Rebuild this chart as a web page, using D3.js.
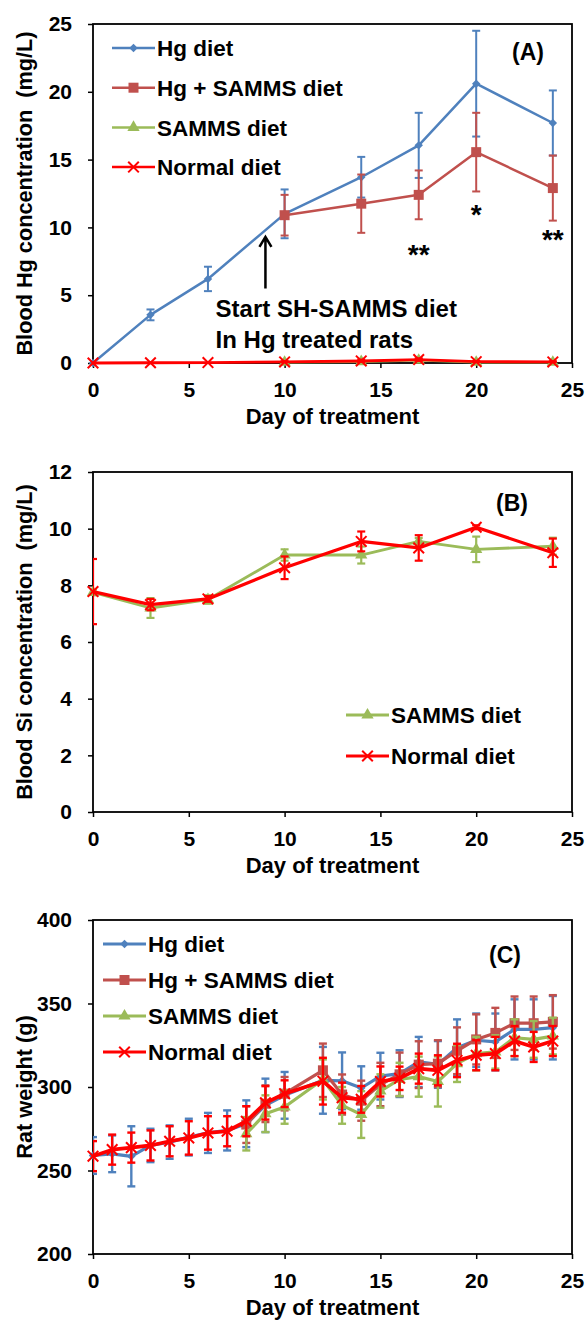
<!DOCTYPE html>
<html>
<head>
<meta charset="utf-8">
<script src="https://cdn.jsdelivr.net/npm/d3@7"></script>
<style>
	body { margin: 0; background: #fff; }
	text { font-family: "Liberation Sans", Arial, sans-serif; font-weight: bold; fill: #000; white-space: pre; }
</style>
</head>
<body>
<div id="chart"></div>
<script>
// ---------- data ----------
const xTicks = [0, 5, 10, 15, 20, 25];
const yTicksA = [0, 5, 10, 15, 20, 25];
const yTicksB = [0, 2, 4, 6, 8, 10, 12];
const yTicksC = [200, 250, 300, 350, 400];

// (A) blood Hg (mg/L)
const hgDaysA = [0, 3, 6, 10, 14, 17, 20, 24];
const hgValsA = [0, 3.55, 6.2, 11.0, 13.7, 16.05, 20.6, 17.7];
const hgErrA = [0, 0.4, 0.9, 1.8, 1.5, 2.4, 3.9, 2.4];
const hgSamDaysA = [10, 14, 17, 20, 24];
const hgSamValsA = [10.9, 11.75, 12.4, 15.55, 12.9];
const hgSamErrA = [1.5, 2.15, 1.8, 2.9, 2.4];
const samDaysA = [10, 14, 17, 20, 24];
const samValsA = [0.05, 0.1, 0.2, 0.05, 0.05];
const samErrA = [0.05, 0.05, 0.1, 0.05, 0.05];
const normDaysA = [0, 3, 6, 10, 14, 17, 20, 24];
const normValsA = [0, 0.02, 0.03, 0.08, 0.15, 0.25, 0.1, 0.08];
const normErrA = [0, 0, 0, 0.05, 0.1, 0.1, 0.05, 0.05];

// (B) blood Si (mg/L)
const daysB = [0, 3, 6, 10, 14, 17, 20, 24];
const samValsB = [7.75, 7.2, 7.5, 9.07, 9.07, 9.55, 9.27, 9.38];
const samErrB = [0.1, 0.35, 0.15, 0.2, 0.3, 0.12, 0.45, 0.3];
const normValsB = [7.78, 7.32, 7.52, 8.62, 9.55, 9.32, 10.05, 9.15];
const normErrB = [1.15, 0.2, 0.1, 0.4, 0.35, 0.45, 0.07, 0.5];

// (C) rat weight (g)
const daysAllC = [0, 1, 2, 3, 4, 5, 6, 7, 8, 9, 10, 12, 13, 14, 15, 16, 17, 18, 19, 20, 21, 22, 23, 24];
const daysLateC = [8, 9, 10, 12, 13, 14, 15, 16, 17, 18, 19, 20, 21, 22, 23, 24];
const hgValsC = [259, 260, 258.5, 265, 267, 270, 272.5, 274, 278, 289, 295, 304, 303.7, 299.4, 306.5, 308, 315, 313.5, 323.5, 328, 327, 334.5, 334.5, 335.5];
const hgErrC = [11, 11, 18, 10, 10, 11, 12, 12, 14, 16, 14, 20, 17, 13, 14, 14, 15, 14, 17, 16, 17, 18, 18, 19];
const hgSamValsC = [277.5, 290, 296, 310, 295.5, 291.8, 301.5, 307.6, 313.4, 314, 321.7, 328.5, 332.4, 338.2, 338.2, 339];
const hgSamErrC = [11, 11, 10, 16, 12, 12, 13, 13, 14, 14, 14, 15, 15, 16, 16, 16];
const samValsC = [272, 284, 288, 304.5, 289, 283.5, 297.6, 304.5, 306.2, 303.3, 314, 320, 321, 329.5, 328.5, 330.5];
const samErrC = [10, 11, 10, 12, 11, 14, 10, 10, 12, 15, 11, 10, 10, 11, 11, 11];
const normValsC = [258.6, 262.5, 263.7, 265, 267.5, 269.5, 272.5, 273.5, 279.5, 290.5, 296, 303.5, 293.6, 292.6, 303.3, 305.2, 311, 310, 315.9, 319, 320, 327.5, 324, 327.5];
const normErrC = [9, 9, 9, 9, 9, 10, 10, 9, 9, 10, 8, 14, 9, 8, 9, 7, 9, 9, 10, 9, 10, 9, 9, 9];

// annotations in panel A (day, value)
const arrowA = { day: 9, from: 5.5, to: 9.3 };
const noteLinesA = ['Start SH-SAMMS diet', 'In Hg treated rats'];
const starsA = [{ day: 17, v: 8.5, t: '**' }, { day: 20, v: 11.4, t: '*' }, { day: 24, v: 9.6, t: '**' }];

// ---------- styles ----------
const BLUE = '#4F81BD', BROWN = '#C0504D', GREEN = '#9BBB59', RED = '#FF0000';

// square rotated 45deg (Excel diamond)
const symDiamond = {
	draw(ctx, size) {
		const r = Math.sqrt(size) / 2 * 1.3;
		ctx.moveTo(0, -r); ctx.lineTo(r, 0); ctx.lineTo(0, r); ctx.lineTo(-r, 0); ctx.closePath();
	}
};
const styles = {
	hg: { name: 'Hg diet', color: BLUE, sym: symDiamond, size: 42, stroke: false },
	hgSam: { name: 'Hg + SAMMS diet', color: BROWN, sym: d3.symbolSquare, size: 100, stroke: false },
	sam: { name: 'SAMMS diet', color: GREEN, sym: d3.symbolTriangle, size: 65, stroke: false },
	norm: { name: 'Normal diet', color: RED, sym: d3.symbolTimes, size: 75, stroke: true }
};

const W = 587, H = 1331;
const svg = d3.select('#chart').append('svg')
	.attr('width', W)
	.attr('height', H);

const xLeft = 93, xRight = 572;
const x = d3.scaleLinear().domain([0, 25]).range([xLeft, xRight]);

function toPts(days, vals, errs) {
	return days.map((d, i) => ({ day: d, v: vals[i], e: errs[i] }));
}

function drawMarker(g, st, cx, cy) {
	const p = g.append('path')
		.attr('d', d3.symbol(st.sym, st.size)())
		.attr('transform', `translate(${cx},${cy})`);
	if (st.stroke) p.attr('fill', 'none').attr('stroke', st.color).attr('stroke-width', 2);
	else p.attr('fill', st.color);
}

function panel(o) {
	const g = svg.append('g');
	const y = d3.scaleLinear().domain(o.yDomain).range([o.bottom, o.top]);
	const clipId = `clip-${o.id}`;

	g.append('clipPath').attr('id', clipId)
		.append('rect')
			.attr('x', xLeft).attr('y', o.top)
			.attr('width', xRight - xLeft).attr('height', o.bottom - o.top);

	// axes
	const yAxis = g.append('g')
		.attr('transform', `translate(${xLeft},0)`)
		.call(d3.axisLeft(y).tickValues(o.yTicks).tickSize(5).tickSizeOuter(0).tickPadding(16));
	const xAxis = g.append('g')
		.attr('transform', `translate(0,${o.bottom})`)
		.call(d3.axisBottom(x).tickValues(xTicks).tickSize(5).tickSizeOuter(0).tickPadding(14));
	[yAxis, xAxis].forEach(a => {
		a.select('.domain').remove();
		a.selectAll('line').attr('stroke', '#000').attr('stroke-width', 1.5);
		a.selectAll('text').style('font-size', '21px').attr('fill', '#000');
	});

	g.append('rect')
		.attr('x', xLeft).attr('y', o.top)
		.attr('width', xRight - xLeft).attr('height', o.bottom - o.top)
		.attr('fill', 'none').attr('stroke', '#000').attr('stroke-width', 1.8);

	// titles
	g.append('text')
		.attr('transform', `translate(32,${(o.top + o.bottom) / 2}) rotate(-90)`)
		.attr('text-anchor', 'middle')
		.style('font-size', '21.7px')
		.text(o.yTitle);
	g.append('text')
		.attr('x', (xLeft + xRight) / 2)
		.attr('y', o.bottom + 61)
		.attr('text-anchor', 'middle')
		.style('font-size', '22px')
		.text('Day of treatment');
	g.append('text')
		.attr('x', o.tag[0]).attr('y', o.tag[1])
		.attr('text-anchor', 'middle')
		.style('font-size', '23px')
		.text(o.tag[2]);

	// series
	o.series.forEach(s => {
		const st = s.style;
		const sg = g.append('g');
		sg.append('path')
			.datum(s.pts)
			.attr('fill', 'none')
			.attr('stroke', st.color)
			.attr('stroke-width', o.lineW * (st === styles.norm ? 1.15 : 1))
			.attr('stroke-linejoin', 'round')
			.attr('d', d3.line().x(d => x(d.day)).y(d => y(d.v)));

		const eb = sg.append('g')
			.attr('clip-path', `url(#${clipId})`)
			.attr('stroke', st.color)
			.attr('stroke-width', o.errW);
		s.pts.filter(d => d.e > 0).forEach(d => {
			const cx = x(d.day), y0 = y(d.v - d.e), y1 = y(d.v + d.e);
			eb.append('line').attr('x1', cx).attr('x2', cx).attr('y1', y0).attr('y2', y1);
			eb.append('line').attr('x1', cx - 4).attr('x2', cx + 4).attr('y1', y0).attr('y2', y0);
			eb.append('line').attr('x1', cx - 4).attr('x2', cx + 4).attr('y1', y1).attr('y2', y1);
		});

		s.pts.forEach(d => drawMarker(sg, st, x(d.day), y(d.v)));
	});

	// legend
	const lg = o.legend;
	lg.items.forEach((st, i) => {
		const ly = lg.y + i * lg.dy;
		g.append('line')
			.attr('x1', lg.x).attr('x2', lg.x + 43)
			.attr('y1', ly).attr('y2', ly)
			.attr('stroke', st.color).attr('stroke-width', o.lineW);
		drawMarker(g, st, lg.x + 21.5, ly);
		g.append('text')
			.attr('x', lg.x + 45).attr('y', ly)
			.attr('dy', '0.36em')
			.style('font-size', '22.5px')
			.text(st.name);
	});

	return { g, y };
}

// ---------- panel A ----------
const pA = panel({
	id: 'a', top: 24, bottom: 363, yDomain: [0, 25], yTicks: yTicksA,
	yTitle: 'Blood Hg concentration  (mg/L)', tag: [528, 60, '(A)'],
	lineW: 2.5, errW: 2,
	series: [
		{ style: styles.hg, pts: toPts(hgDaysA, hgValsA, hgErrA) },
		{ style: styles.hgSam, pts: toPts(hgSamDaysA, hgSamValsA, hgSamErrA) },
		{ style: styles.sam, pts: toPts(samDaysA, samValsA, samErrA) },
		{ style: styles.norm, pts: toPts(normDaysA, normValsA, normErrA) }
	],
	legend: { x: 112, y: 48, dy: 39.7, items: [styles.hg, styles.hgSam, styles.sam, styles.norm] }
});

// arrow + notes
const ax = x(arrowA.day);
pA.g.append('path')
	.attr('d', `M${ax},${pA.y(arrowA.from)}V${pA.y(arrowA.to)}M${ax - 6},${pA.y(arrowA.to) + 10}L${ax},${pA.y(arrowA.to)}L${ax + 6},${pA.y(arrowA.to) + 10}`)
	.attr('fill', 'none').attr('stroke', '#000').attr('stroke-width', 2.5);
noteLinesA.forEach((t, i) => {
	pA.g.append('text')
		.attr('x', x(6.4)).attr('y', pA.y(3.4) + i * 31)
		.style('font-size', '24px')
		.text(t);
});
starsA.forEach(s => {
	pA.g.append('text')
		.attr('x', x(s.day)).attr('y', pA.y(s.v) + 16)
		.attr('text-anchor', 'middle')
		.style('font-size', '28px')
		.text(s.t);
});

// ---------- panel B ----------
panel({
	id: 'b', top: 472, bottom: 812, yDomain: [0, 12], yTicks: yTicksB,
	yTitle: 'Blood Si concentration  (mg/L)', tag: [512, 511, '(B)'],
	lineW: 2.8, errW: 2.2,
	series: [
		{ style: styles.sam, pts: toPts(daysB, samValsB, samErrB) },
		{ style: styles.norm, pts: toPts(daysB, normValsB, normErrB) }
	],
	legend: { x: 346, y: 715, dy: 41, items: [styles.sam, styles.norm] }
});

// ---------- panel C ----------
panel({
	id: 'c', top: 920, bottom: 1254, yDomain: [200, 400], yTicks: yTicksC,
	yTitle: 'Rat weight (g)', tag: [505, 963, '(C)'],
	lineW: 3.2, errW: 2.4,
	series: [
		{ style: styles.hg, pts: toPts(daysAllC, hgValsC, hgErrC) },
		{ style: styles.hgSam, pts: toPts(daysLateC, hgSamValsC, hgSamErrC) },
		{ style: styles.sam, pts: toPts(daysLateC, samValsC, samErrC) },
		{ style: styles.norm, pts: toPts(daysAllC, normValsC, normErrC) }
	],
	legend: { x: 103, y: 944, dy: 36, items: [styles.hg, styles.hgSam, styles.sam, styles.norm] }
});
</script>
</body>
</html>
